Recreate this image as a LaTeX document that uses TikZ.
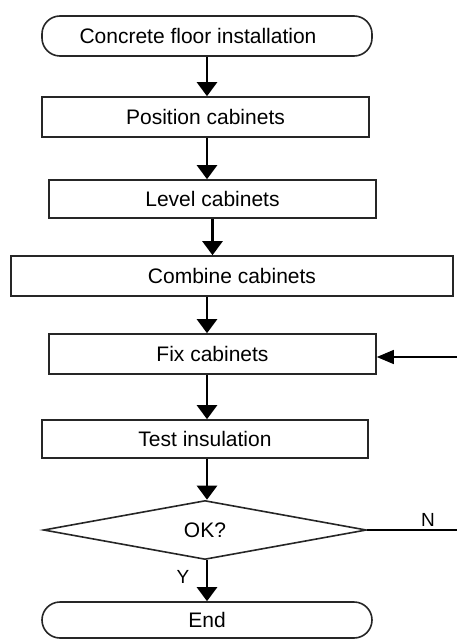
\documentclass[tikz,border=0pt]{standalone}
\usepackage{fontspec}
\setmainfont{Liberation Sans}
\usetikzlibrary{arrows.meta,shapes.geometric,calc}
\begin{document}
\begin{tikzpicture}[x=1pt,y=-1pt,
  box/.style={draw=black!85,line width=1.6pt,rectangle,inner sep=0pt,font=\fontsize{21}{23}\selectfont},
  term/.style={box,rounded corners=18pt},
  dec/.style={draw=black!85,line width=1.6pt,diamond,inner sep=0pt,font=\fontsize{21}{23}\selectfont},
  arr/.style={line width=2.6pt,-{Triangle[length=14pt,width=20pt]}},
  thinarr/.style={line width=1.3pt,-{Triangle[length=17pt,width=14pt]}},
  lbl/.style={font=\fontsize{19}{21}\selectfont}]
\useasboundingbox (0,0) rectangle (457,639);
\node[term,minimum width=330pt,minimum height=40pt] (start) at (207,36) {\hspace*{-18pt}Concrete floor installation};
\node[box,minimum width=327pt,minimum height=40pt] (pos) at (205.5,117) {Position cabinets};
\node[box,minimum width=327pt,minimum height=38pt] (lev) at (212.5,199) {Level cabinets};
\node[box,minimum width=442pt,minimum height=40pt] (comb) at (232,276) {Combine cabinets};
\node[box,minimum width=327pt,minimum height=40pt] (fix) at (212.5,354) {Fix cabinets};
\node[box,minimum width=326pt,minimum height=38pt] (test) at (205,439) {Test insulation};
\node[dec,minimum width=323pt,minimum height=59pt] (ok) at (205,530) {OK?};
\node[term,minimum width=330pt,minimum height=36pt] (end) at (207,620) {End};
\coordinate (rE) at (457,357);
\coordinate (nE) at (457,530);
\node[lbl] (nlab) at (428,520) {N};
\node[lbl] (ylab) at (183,577) {Y};
\draw[arr] (start.south) -- (start.south |- pos.north);
\draw[arr] (start.south |- pos.south) -- (start.south |- lev.north);
\draw[arr] (lev.south) -- (lev.south |- comb.north);
\draw[arr] (start.south |- comb.south) -- (start.south |- fix.north);
\draw[arr] (start.south |- fix.south) -- (start.south |- test.north);
\draw[arr] (start.south |- test.south) -- (start.south |- ok.north);
\draw[arr] (start.south |- ok.south) -- (start.south |- end.north);
\draw[thinarr] (rE) -- (fix.east |- rE);
\draw[line width=1.3pt] (ok.east) -- (nE);
\end{tikzpicture}
\end{document}
